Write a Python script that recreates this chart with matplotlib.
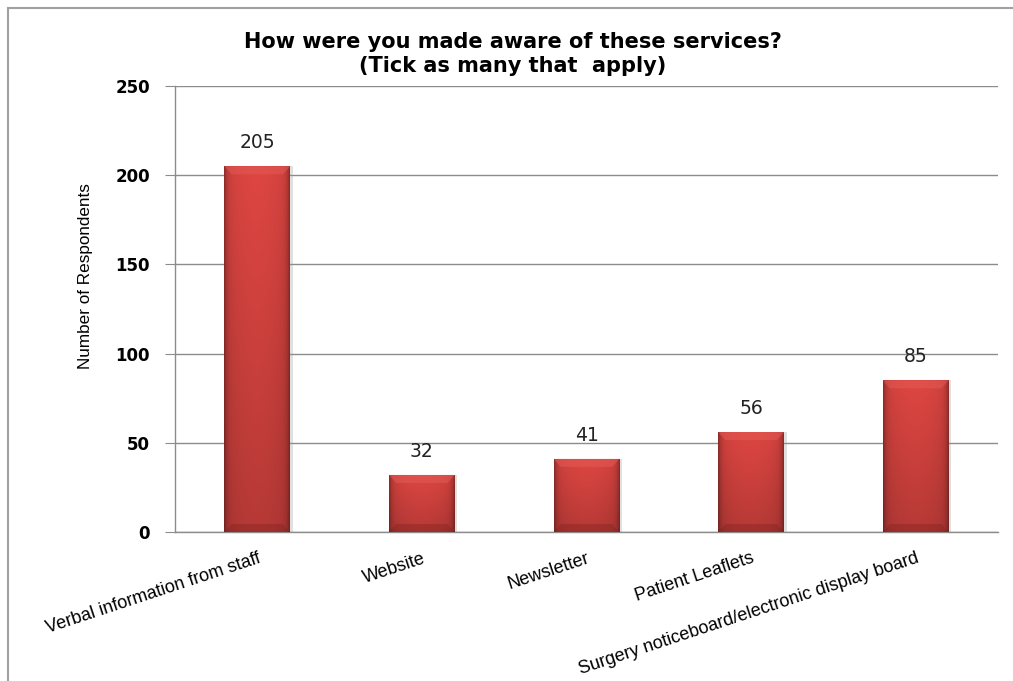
import matplotlib
matplotlib.use("Agg")
import matplotlib.pyplot as plt
import numpy as np
from matplotlib.patches import Rectangle, Polygon

categories = ["Verbal information from staff", "Website", "Newsletter",
              "Patient Leaflets", "Surgery noticeboard/electronic display board"]
values = [205, 32, 41, 56, 85]
yticks = [0, 50, 100, 150, 200, 250]

plt.rcParams['font.family'] = ['Liberation Sans', 'DejaVu Sans']

fig = plt.figure(figsize=(10.13, 6.81), dpi=100)
W, H = 1013, 681
ax = fig.add_axes([175 / W, 1 - 532 / H, (998 - 175) / W, (532 - 86) / H])

x = np.arange(len(categories))
bars = ax.bar(x, values, width=0.4, color='#C23B37', edgecolor='none', zorder=3)

# 2-D shading for each bar: narrow darker edges, lighter top, darker bottom
hx = np.linspace(-1, 1, 200)
hprof = 1.0 - 0.10 * np.abs(hx) ** 2 - 0.30 * np.abs(hx) ** 12
vy = np.linspace(0, 1, 200)[:, None]          # 0 bottom .. 1 top (origin lower)
vprof = 0.82 + 0.18 * vy
base = np.array([222, 70, 66]) / 255.0
img = (base[None, None, :] * (hprof[None, :, None] * vprof[:, :, None]))
img = np.clip(img, 0, 1)
ppu = (532 - 86) / 250.0  # pixels per data unit (for bevel size)
for b in bars:
    x0, y0 = b.get_x(), b.get_y()
    w, h = b.get_width(), b.get_height()
    im = ax.imshow(img, aspect='auto', extent=(x0, x0 + w, y0, y0 + h), origin='lower',
                   zorder=3.5, interpolation='bilinear')
    im.set_clip_path(b)
    bev = 8 / ppu
    inset = w * 0.11
    ax.add_patch(Polygon([(x0, y0 + h), (x0 + w, y0 + h), (x0 + w - inset, y0 + h - bev),
                          (x0 + inset, y0 + h - bev)], closed=True,
                         facecolor='#E25A54', edgecolor='none', alpha=0.55, zorder=3.6))
    ax.add_patch(Polygon([(x0, y0), (x0 + w, y0), (x0 + w - inset, y0 + bev),
                          (x0 + inset, y0 + bev)], closed=True,
                         facecolor='#7A201D', edgecolor='none', alpha=0.35, zorder=3.6))
    ax.add_patch(Rectangle((x0 + w, y0), w * 0.04, h, facecolor='#999999', alpha=0.3,
                           edgecolor='none', zorder=2.9))

for xi, v in zip(x, values):
    ax.text(xi, v + 8, str(v), ha='center', va='bottom', fontsize=13.5,
            family=['DejaVu Sans'], color='#222222')

ax.set_xlim(-0.5, len(categories) - 0.5)
ax.set_ylim(0, 250)
ax.set_yticks(yticks)
ax.set_yticklabels([str(t) for t in yticks], fontsize=12, fontweight='bold',
                   family=['DejaVu Sans'])
ax.set_xticks(x)
ax.set_xticklabels(categories, rotation=18.3, ha='right', rotation_mode='anchor',
                   fontsize=13, family=['Liberation Sans'])
ax.tick_params(axis='x', length=0, pad=13)
ax.tick_params(axis='y', length=7, color='#8C8C8C', direction='out', pad=11)
ax.yaxis.grid(True, color='#8C8C8C', linewidth=1, zorder=0)
ax.set_axisbelow(True)
for s in ['top', 'right']:
    ax.spines[s].set_visible(False)
for s in ['left', 'bottom']:
    ax.spines[s].set_color('#8C8C8C')
    ax.spines[s].set_linewidth(1)

ax.set_ylabel("Number of Respondents", fontsize=12.3)
ax.yaxis.set_label_coords(-0.0996, 0.574)

fig.text(513 / W, 1 - 42.5 / H, "How were you made aware of these services?",
         ha='center', va='center', fontsize=15, fontweight='bold', family=['DejaVu Sans'])
fig.text(513 / W, 1 - 66 / H, "(Tick as many that  apply)",
         ha='center', va='center', fontsize=15, fontweight='bold', family=['DejaVu Sans'])

# outer chart border
fig.add_artist(Rectangle((8 / W, -0.1), 1.2, 1 - 8 / H + 0.1, transform=fig.transFigure,
                         facecolor='none', edgecolor='#A0A0A0', linewidth=1.5))

fig.savefig("out.png", dpi=100)
